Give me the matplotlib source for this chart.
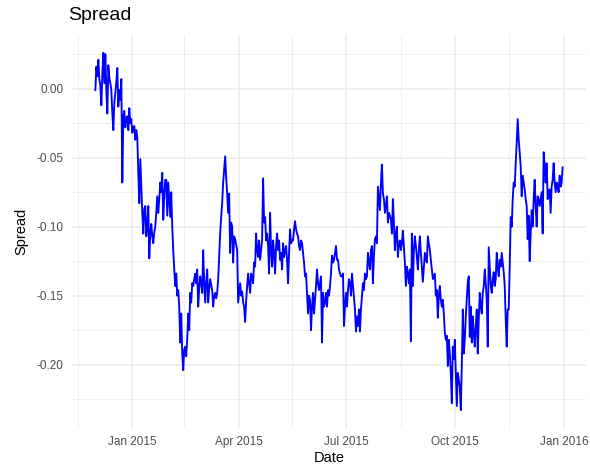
import numpy as np
import pandas as pd
import matplotlib
matplotlib.use('Agg')
import matplotlib.pyplot as plt
import matplotlib.dates as mdates

plt.rcParams['font.family'] = ['Liberation Sans', 'DejaVu Sans']

# spread values, in date order (2014-12-01 .. 2015-12-31)
start_date = '2014-12-01'
end_date = '2015-12-31'
spread = [
    -0.001, 0.016, 0.009, 0.021, 0.007, 0.002, -0.012, 0.011, 0.026, 0.004,
    0.025, -0.001, -0.018, 0.017, 0.008, 0.004, -0.001, -0.018, -0.030, -0.010,
    -0.003, 0.005, 0.015, -0.013, -0.001, -0.008, 0.007, -0.068, -0.020, -0.016,
    -0.028, -0.022, -0.020, -0.030, -0.014, -0.025, -0.022, -0.032, -0.028, -0.027,
    -0.037, -0.030, -0.035, -0.061, -0.083, -0.051, -0.071, -0.090, -0.105, -0.087,
    -0.085, -0.107, -0.100, -0.085, -0.123, -0.105, -0.098, -0.107, -0.112, -0.104,
    -0.100, -0.090, -0.078, -0.090, -0.080, -0.068, -0.075, -0.061, -0.095, -0.078,
    -0.066, -0.066, -0.092, -0.068, -0.080, -0.093, -0.075, -0.100, -0.117, -0.131,
    -0.143, -0.134, -0.150, -0.146, -0.158, -0.184, -0.163, -0.192, -0.204, -0.189,
    -0.187, -0.194, -0.182, -0.163, -0.175, -0.148, -0.155, -0.141, -0.143, -0.138,
    -0.134, -0.141, -0.131, -0.158, -0.145, -0.136, -0.141, -0.148, -0.117, -0.141,
    -0.155, -0.140, -0.131, -0.155, -0.145, -0.138, -0.142, -0.146, -0.158, -0.150,
    -0.148, -0.152, -0.148, -0.138, -0.121, -0.105, -0.093, -0.083, -0.068, -0.059,
    -0.049, -0.064, -0.076, -0.090, -0.076, -0.119, -0.097, -0.100, -0.126, -0.107,
    -0.109, -0.113, -0.117, -0.155, -0.148, -0.141, -0.150, -0.147, -0.155, -0.158,
    -0.169, -0.154, -0.143, -0.134, -0.141, -0.148, -0.134, -0.136, -0.141, -0.126,
    -0.129, -0.105, -0.117, -0.122, -0.110, -0.124, -0.117, -0.110, -0.065, -0.097,
    -0.093, -0.110, -0.105, -0.114, -0.134, -0.090, -0.117, -0.129, -0.110, -0.119,
    -0.134, -0.114, -0.105, -0.117, -0.110, -0.124, -0.119, -0.131, -0.112, -0.122,
    -0.117, -0.114, -0.124, -0.141, -0.119, -0.102, -0.112, -0.110, -0.110, -0.102,
    -0.096, -0.102, -0.105, -0.107, -0.114, -0.117, -0.110, -0.112, -0.119, -0.126,
    -0.136, -0.134, -0.148, -0.163, -0.150, -0.153, -0.175, -0.158, -0.148, -0.163,
    -0.153, -0.143, -0.131, -0.141, -0.146, -0.141, -0.136, -0.184, -0.148, -0.158,
    -0.155, -0.148, -0.158, -0.146, -0.150, -0.143, -0.134, -0.121, -0.126, -0.124,
    -0.119, -0.114, -0.124, -0.124, -0.131, -0.134, -0.136, -0.136, -0.134, -0.172,
    -0.158, -0.148, -0.158, -0.146, -0.138, -0.141, -0.150, -0.134, -0.143, -0.153,
    -0.160, -0.176, -0.165, -0.172, -0.160, -0.176, -0.160, -0.150, -0.141, -0.146,
    -0.134, -0.138, -0.136, -0.119, -0.126, -0.131, -0.117, -0.114, -0.141, -0.121,
    -0.109, -0.107, -0.112, -0.071, -0.080, -0.088, -0.068, -0.055, -0.076, -0.080,
    -0.090, -0.085, -0.078, -0.097, -0.090, -0.092, -0.095, -0.105, -0.080, -0.097,
    -0.117, -0.105, -0.100, -0.122, -0.112, -0.110, -0.117, -0.112, -0.103, -0.114,
    -0.126, -0.143, -0.129, -0.134, -0.141, -0.131, -0.183, -0.105, -0.143, -0.117,
    -0.107, -0.114, -0.122, -0.131, -0.117, -0.107, -0.119, -0.129, -0.140, -0.129,
    -0.119, -0.124, -0.126, -0.107, -0.112, -0.117, -0.124, -0.131, -0.138, -0.136,
    -0.134, -0.150, -0.146, -0.166, -0.150, -0.143, -0.153, -0.158, -0.153, -0.163,
    -0.177, -0.182, -0.179, -0.201, -0.182, -0.192, -0.206, -0.228, -0.187, -0.196,
    -0.182, -0.206, -0.230, -0.206, -0.211, -0.216, -0.233, -0.201, -0.160, -0.192,
    -0.182, -0.165, -0.153, -0.140, -0.136, -0.180, -0.158, -0.184, -0.165, -0.177,
    -0.187, -0.172, -0.160, -0.192, -0.167, -0.148, -0.158, -0.163, -0.148, -0.143,
    -0.131, -0.141, -0.153, -0.187, -0.115, -0.129, -0.143, -0.148, -0.138, -0.133,
    -0.143, -0.138, -0.119, -0.129, -0.136, -0.124, -0.129, -0.119, -0.126, -0.133,
    -0.143, -0.167, -0.187, -0.160, -0.160, -0.129, -0.093, -0.100, -0.080, -0.068,
    -0.071, -0.054, -0.039, -0.022, -0.037, -0.046, -0.056, -0.078, -0.063, -0.068,
    -0.073, -0.080, -0.085, -0.109, -0.092, -0.125, -0.105, -0.088, -0.100, -0.080,
    -0.066, -0.085, -0.100, -0.078, -0.080, -0.085, -0.080, -0.075, -0.105, -0.046,
    -0.056, -0.068, -0.054, -0.080, -0.075, -0.073, -0.090, -0.071, -0.066, -0.054,
    -0.068, -0.075, -0.068, -0.071, -0.075, -0.063, -0.071, -0.068, -0.057,
]
dates = pd.date_range(start_date, end_date, periods=len(spread))

major_x = pd.to_datetime(['2015-01-01', '2015-04-01', '2015-07-01', '2015-10-01', '2016-01-01'])
minor_x = pd.to_datetime(['2014-11-16', '2015-02-14', '2015-05-16', '2015-08-16', '2015-11-16'])
major_y = [0.0, -0.05, -0.10, -0.15, -0.20]
minor_y = [0.025, -0.025, -0.075, -0.125, -0.175, -0.225]

fig = plt.figure(figsize=(5.9, 4.72), dpi=100)
ax = fig.add_axes([72/590, 44/472, 514/590, 393/472])

# ggplot-like expansion of 5%
span = dates[-1] - dates[0]
ax.set_xlim(dates[0] - span*0.05, dates[-1] + span*0.05)
lo, hi = min(spread), max(spread)
ax.set_ylim(lo - (hi-lo)*0.05, hi + (hi-lo)*0.05)

for d in minor_x:
    ax.axvline(d, color='#EBEBEB', lw=0.55, zorder=0)
for v in minor_y:
    ax.axhline(v, color='#EBEBEB', lw=0.55, zorder=0)
for d in major_x:
    ax.axvline(d, color='#EBEBEB', lw=1.1, zorder=0)
for v in major_y:
    ax.axhline(v, color='#EBEBEB', lw=1.1, zorder=0)

ax.plot(dates, spread, color='blue', lw=1.35, zorder=2)

ax.set_xticks(major_x)
ax.xaxis.set_major_formatter(mdates.DateFormatter('%b %Y'))
ax.set_yticks(major_y)
ax.set_yticklabels(['%.2f' % v for v in major_y])
ax.tick_params(length=0, labelsize=8.5, labelcolor='#4D4D4D', pad=6)
for s in ax.spines.values():
    s.set_visible(False)

ax.set_xlabel('Date', fontsize=10.5, labelpad=2)
ax.set_ylabel('Spread', fontsize=10.5, labelpad=6)
fig.text(68/590, 1 - 16/472, 'Spread', fontsize=14, va='center', ha='left')

plt.savefig('out.png', dpi=100)
